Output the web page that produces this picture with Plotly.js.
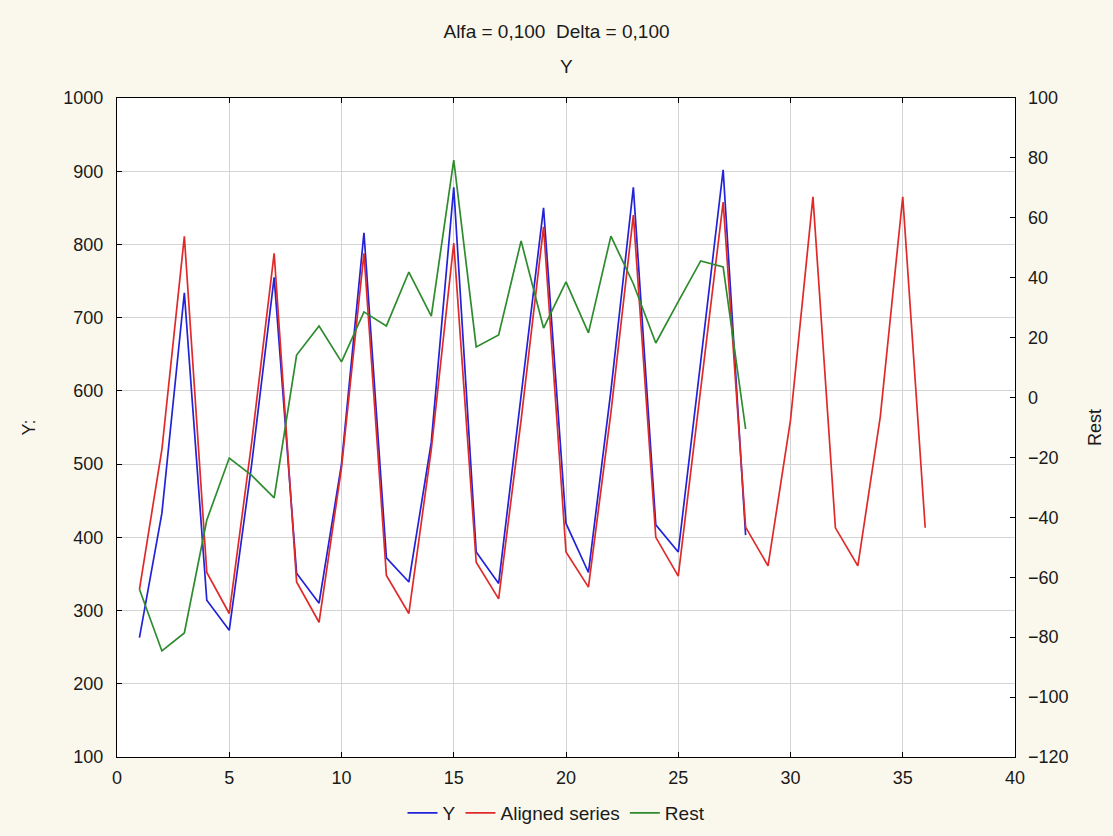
<!DOCTYPE html>
<html>
<head>
<meta charset="utf-8">
<script src="https://cdn.plot.ly/plotly-3.0.1.min.js"></script>
<style>
  html, body { margin: 0; padding: 0; background: #faf8ec; }
  #chart { width: 1113px; height: 836px; }
</style>
</head>
<body>
<div id="chart"></div>
<script>
// Data
const periodsY = [1,2,3,4,5,6,7,8,9,10,11,12,13,14,15,16,17,18,19,20,21,22,23,24,25,26,27,28];
const periodsAligned = [1,2,3,4,5,6,7,8,9,10,11,12,13,14,15,16,17,18,19,20,21,22,23,24,25,26,27,28,29,30,31,32,33,34,35,36];

const seriesY = [263,433,734,314,273,500,755,351,310,500,816,372,339,530,878,380,337,590,850,419,352,600,878,417,380,640,902,403];
const seriesAligned = [329,520,811,352,296,530,788,339,284,495,788,348,296,520,802,366,316,560,824,380,332,570,840,400,347,600,858,414,361,560,865,413,361,565,865,413];
const seriesRest = [-64,-84.6,-78.6,-40.9,-20.2,-26,-33.5,14.2,23.9,11.9,28.6,23.9,41.9,27.2,79.3,16.9,20.9,52.3,23.2,38.6,21.6,53.9,38,18.2,32,45.6,43.6,-10.5];

const seriesNames = ['Y', 'Aligned series', 'Rest'];
const titleLine1 = 'Alfa = 0,100  Delta = 0,100';
const titleLine2 = 'Y';
const leftAxisTitle = 'Y:';
const rightAxisTitle = 'Rest';

const FONT = 'Liberation Sans, Arial, sans-serif';
const W = 1113, H = 836;
const TXT = '#1a1a1a';

const traces = [
  { x: periodsY, y: seriesY, name: seriesNames[0], type: 'scatter', mode: 'lines',
    line: { color: '#2222d8', width: 1.7 }, yaxis: 'y' },
  { x: periodsAligned, y: seriesAligned, name: seriesNames[1], type: 'scatter', mode: 'lines',
    line: { color: '#e02a2a', width: 1.7 }, yaxis: 'y' },
  { x: periodsY, y: seriesRest, name: seriesNames[2], type: 'scatter', mode: 'lines',
    line: { color: '#2e8b2e', width: 1.7 }, yaxis: 'y2' }
];

const layout = {
  width: W, height: H,
  paper_bgcolor: '#faf8ec',
  plot_bgcolor: '#ffffff',
  margin: { l: 117, r: 98, t: 98, b: 79 },
  font: { family: FONT, size: 18, color: TXT },
  showlegend: true,
  title: {
    text: titleLine1,
    font: { family: FONT, size: 19, color: TXT },
    x: 0.5, xanchor: 'center', xref: 'container',
    y: 1 - 31 / H, yanchor: 'middle', yref: 'container'
  },
  annotations: [{
    text: titleLine2, showarrow: false,
    xref: 'paper', yref: 'paper', x: 0.5, xanchor: 'center',
    y: 1 + (98 - 66) / 659, yanchor: 'middle',
    font: { family: FONT, size: 19, color: TXT }
  }],
  xaxis: {
    range: [0, 40], tick0: 0, dtick: 5,
    showgrid: true, gridcolor: '#d4d4d4', gridwidth: 1,
    zeroline: false, showline: true, linecolor: '#000', linewidth: 1.2,
    mirror: 'ticks', ticks: 'inside', ticklen: 5, tickcolor: '#000',
    tickfont: { family: FONT, size: 18, color: TXT },
    ticklabelstandoff: 4
  },
  yaxis: {
    range: [100, 1000], tick0: 100, dtick: 100,
    showgrid: true, gridcolor: '#d4d4d4', gridwidth: 1,
    zeroline: false, showline: true, linecolor: '#000', linewidth: 1.2,
    mirror: true, ticks: 'inside', ticklen: 5, tickcolor: '#000',
    tickfont: { family: FONT, size: 18, color: TXT },
    ticklabelstandoff: 9,
    title: { text: leftAxisTitle, standoff: 22, font: { family: FONT, size: 18, color: TXT } }
  },
  yaxis2: {
    overlaying: 'y', side: 'right',
    range: [-120, 100], tick0: -120, dtick: 20,
    showgrid: false, zeroline: false, showline: false,
    ticks: 'inside', ticklen: 5, tickcolor: '#000',
    tickfont: { family: FONT, size: 18, color: TXT },
    ticklabelstandoff: 12,
    title: { text: rightAxisTitle, standoff: 20, font: { family: FONT, size: 18, color: TXT } }
  },
  legend: {
    orientation: 'h',
    x: 0.5, xanchor: 'center', xref: 'container',
    y: 1 - 813 / H, yanchor: 'middle', yref: 'container',
    bgcolor: 'rgba(0,0,0,0)',
    font: { family: FONT, size: 19, color: TXT },
    itemwidth: 30
  }
};

Plotly.newPlot('chart', traces, layout, { displayModeBar: false, staticPlot: true });
</script>
</body>
</html>
